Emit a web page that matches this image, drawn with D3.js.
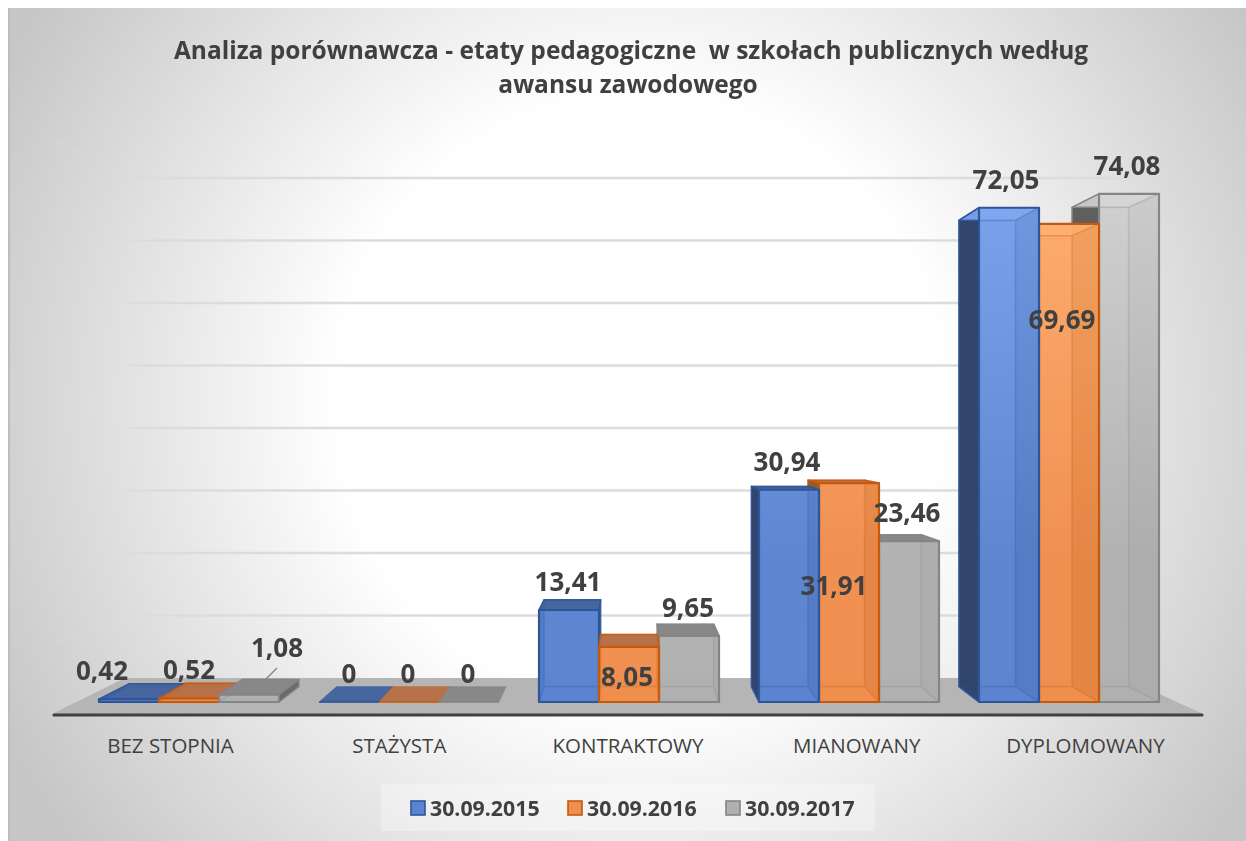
<!DOCTYPE html>
<html><head><meta charset="utf-8">
<script src="https://cdn.jsdelivr.net/npm/d3@7"></script>
<style>html,body{margin:0;padding:0;background:#fff}svg{display:block}text{font-family:"Open Sans",sans-serif}</style>
</head><body><svg id="c" width="1246" height="841"></svg>
<script>
const categories = ["BEZ STOPNIA","STAŻYSTA","KONTRAKTOWY","MIANOWANY","DYPLOMOWANY"];
const seriesNames = ["30.09.2015","30.09.2016","30.09.2017"];
const values2015 = [0.42,0,13.41,30.94,72.05];
const values2016 = [0.52,0,8.05,31.91,69.69];
const values2017 = [1.08,0,9.65,23.46,74.08];
const gridTicks = [0,10,20,30,40,50,60,70,80];
const titleLines = ["Analiza porównawcza - etaty pedagogiczne  w szkołach publicznych według","awansu zawodowego"];
const seriesValues = [values2015,values2016,values2017];
const pal = [
 {front:["#7ca6f0","#5a84cf"],stroke:"#2f5597",top:"#46669f",left:"#31456d",right:"#38589a"},
 {front:["#ffb070","#ef8e4e"],stroke:"#c55a11",top:"#b8724a",left:"#8f5a35",right:"#b8601e"},
 {front:["#d4d4d4","#b0b0b0"],stroke:"#858585",top:"#888888",left:"#5e5e5e",right:"#a0a0a0"}];
const fmt = v => String(v).replace(".",",");
const svg = d3.select("#c");
const defs = svg.append("defs");
const W=1246,H=841,VX=627,VY=431,F=0.943;
defs.append("filter").attr("id","soft").attr("x",-0.02).attr("y",-0.02).attr("width",1.04).attr("height",1.04)
  .append("feGaussianBlur").attr("stdDeviation",0.55);
const bg = defs.append("radialGradient").attr("id","bg").attr("gradientUnits","userSpaceOnUse")
  .attr("cx",640).attr("cy",400).attr("r",720);
[[0,"#ffffff"],[0.42,"#ffffff"],[1,"#c6c6c6"]].forEach(s=>bg.append("stop").attr("offset",s[0]).attr("stop-color",s[1]));
pal.forEach((p,i)=>{
  const g=defs.append("linearGradient").attr("id","f"+i).attr("gradientUnits","userSpaceOnUse")
    .attr("x1",0).attr("x2",0).attr("y1",200).attr("y2",560);
  g.append("stop").attr("offset",0).attr("stop-color",p.front[0]);
  g.append("stop").attr("offset",1).attr("stop-color",p.front[1]);
});
svg.append("rect").attr("x",8).attr("y",8).attr("width",W-8).attr("height",H-8).attr("fill","url(#bg)");
svg.append("rect").attr("x",8).attr("y",8).attr("width",2).attr("height",H-8).attr("fill","#bdbdbd");

const y = d3.scaleLinear().domain([0,80]).range([702,702-80*6.86]);
const x0 = d3.scaleBand().domain(categories).range([79,1179]).paddingInner(40/220).paddingOuter(20/220);
const x1 = d3.scaleBand().domain(d3.range(3)).range([0,x0.bandwidth()]);
const xLab = d3.scalePoint().domain(categories).range([170,1085]);
const back = (px,py)=>[VX+(px-VX)*F, VY+(py-VY)*F];
const wallY = d3.scaleLinear().domain([0,80]).range([678,178]);
const line = d3.line();
const chart = svg.append("g").attr("filter","url(#soft)");

// side wall + back wall gridlines
const grid = chart.append("g");
gridTicks.slice(1).forEach(t=>{
  const gy=wallY(t);
  grid.append("line").attr("x1",130).attr("x2",1125).attr("y1",gy).attr("y2",gy).attr("stroke","#dcdcdc").attr("stroke-width",2.4);
  grid.append("line").attr("x1",130).attr("y1",gy).attr("x2",55).attr("y2",gy-(VY-gy)*0.15).attr("stroke","#dedede").attr("stroke-width",1.5).attr("opacity",.35);
});
// floor
chart.append("path").attr("d",line([[125,678],[1125,678],[1203,714],[52,714]])+"Z").attr("fill","#b5b5b5");
chart.append("line").attr("x1",54).attr("x2",1202).attr("y1",715).attr("y2",715).attr("stroke","#404040").attr("stroke-width",3.2).attr("stroke-linecap","round");

// bars: painted from the outside toward the vanishing point
const bars=[];
categories.forEach((c,ci)=>seriesValues.forEach((vals,si)=>{
  const l=x0(c)+x1(si), r=l+x1.bandwidth();
  bars.push({ci,si,v:vals[ci],l,r,t:y(vals[ci]),b:y(0),dist:Math.abs((l+r)/2-VX)});
}));
bars.sort((a,b)=>b.dist-a.dist);
const gb=chart.append("g");
bars.forEach(d=>{
  const p=pal[d.si], g=gb.append("g");
  const fl=[d.l,d.b],fr=[d.r,d.b],tl=[d.l,d.t],tr=[d.r,d.t];
  const bl=back(...fl),br=back(...fr),ul=back(...tl),ur=back(...tr);
  const face=(pts,fill,o,sw)=>g.append("path").attr("d",line(pts)+"Z").attr("fill",fill).attr("fill-opacity",o)
    .attr("stroke",p.stroke).attr("stroke-opacity",sw).attr("stroke-width",1.5).attr("stroke-linejoin","round");
  if(d.v===0){ g.append("path").attr("d",line([fl,fr,br,bl])+"Z").attr("fill",p.top).attr("stroke",p.stroke).attr("stroke-opacity",.35); 
    g.append("line").attr("x1",d.l).attr("x2",d.r).attr("y1",d.b).attr("y2",d.b).attr("stroke",p.stroke).attr("stroke-width",1.5);return;}
  face([bl,br,ur,ul],p.front[1],.9,.25);
  face([fl,fr,br,bl],p.front[1],1,.3);
  if(d.l>VX-5) face([fl,tl,ul,bl],p.left,1,.9);
  if(d.r<VX+5) face([fr,tr,ur,br],p.left,.85,.6);
  if(d.l>VX-5) face([fr,tr,ur,br],p.right,1,.3);
  else if(d.r<VX+5) face([fl,tl,ul,bl],p.right,1,.3);
  face([tl,tr,ur,ul],d.t>VY?p.top:p.front[0],d.t>VY?1:.9,.9);
  face([fl,fr,tr,tl],`url(#f${d.si})`,.82,1).attr("stroke-width",2.2);
  // inner edges seen through the translucent front
  g.append("path").attr("d",line([ul,ur,br,bl])+"Z"+line([fl,bl])+line([fr,br])+line([tr,ur])+line([tl,ul]))
    .attr("fill","none").attr("stroke",p.stroke).attr("stroke-opacity",.22).attr("stroke-width",1.6);
});

// leader line and data labels
svg.append("line").attr("x1",277).attr("y1",668).attr("x2",265).attr("y2",680).attr("stroke","#808080").attr("stroke-width",1.3);
const labelX=[[102,189,277],[349,408,468],[568,627,688],[787,834,907],[1006,1062,1127]];
const labelY=[[671,670,648],[674,674,674],[582,677,608],[462,586,513],[180,320,166]];
const lab=svg.append("g").attr("font-weight",700).attr("font-size",26).attr("fill","#404040").attr("text-anchor","middle");
categories.forEach((c,ci)=>seriesValues.forEach((vals,si)=>{
  lab.append("text").attr("x",labelX[ci][si]).attr("y",labelY[ci][si]+9).text(fmt(vals[ci]));
}));

// axis labels
const axis=d3.axisBottom(xLab).tickSize(0).tickPadding(0);
const ax=svg.append("g").attr("transform","translate(0,738)").call(axis);
ax.select(".domain").remove();
ax.selectAll("text").attr("font-size",20.5).attr("fill","#404040").attr("font-family","'Open Sans',sans-serif").attr("dy",".6em").attr("y",3);

// title
const tt=svg.append("text").attr("text-anchor","middle").attr("font-weight",700).attr("font-size",24.5).attr("fill","#404040");
titleLines.forEach((s,i)=>tt.append("tspan").attr("x",i?628:631).attr("y",i?93:59).style("white-space","pre").text(s));

// legend
svg.append("rect").attr("x",381).attr("y",784).attr("width",494).attr("height",47).attr("fill","#fff").attr("fill-opacity",.3);
const legX=[411,568,726];
seriesNames.forEach((n,i)=>{
  svg.append("rect").attr("x",legX[i]).attr("y",801).attr("width",14).attr("height",14).attr("fill",pal[i].front[1]).attr("stroke",pal[i].stroke).attr("stroke-width",1.6);
  svg.append("text").attr("x",legX[i]+19).attr("y",816).attr("font-weight",700).attr("font-size",21.3).attr("fill","#404040").text(n);
});
</script></body></html>
